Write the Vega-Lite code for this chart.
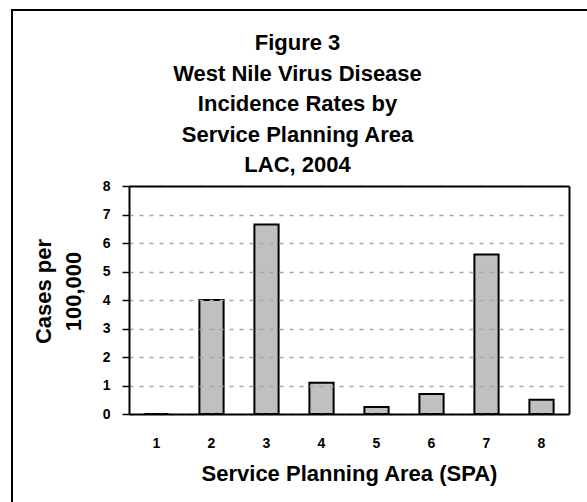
{
  "$schema": "https://vega.github.io/schema/vega-lite/v6.json",
  "autosize": {"type": "none"},
  "padding": {"left": 12, "top": 10, "right": -10, "bottom": -10},
  "width": 585,
  "height": 502,
  "background": "white",
  "title": {
    "text": ["Figure 3", "West Nile Virus Disease", "Incidence Rates by", "Service Planning Area", "LAC, 2004"],
    "font": "Liberation Sans",
    "fontSize": 22,
    "fontWeight": "bold",
    "color": "black",
    "lineHeight": 30.5,
    "anchor": "middle",
    "frame": "group",
    "baseline": "bottom",
    "offset": -189,
    "dx": -7
  },
  "data": {
    "values": [
      {"spa": "1", "rate": 0},
      {"spa": "2", "rate": 4.0},
      {"spa": "3", "rate": 6.65},
      {"spa": "4", "rate": 1.1},
      {"spa": "5", "rate": 0.25},
      {"spa": "6", "rate": 0.7},
      {"spa": "7", "rate": 5.6},
      {"spa": "8", "rate": 0.5}
    ]
  },
  "layer": [
    {
      "mark": {"type": "bar", "fill": "#c0c0c0", "stroke": "black", "strokeWidth": 2},
      "encoding": {
        "x": {
          "field": "spa",
          "type": "ordinal",
          "scale": {"range": [117, 557], "paddingInner": 0.56, "paddingOuter": 0.28},
          "axis": {
            "orient": "bottom",
            "offset": -98,
            "labelAngle": 0,
            "ticks": false,
            "domainColor": "black",
            "domainWidth": 2,
            "labelFont": "Liberation Sans",
            "labelFontSize": 14,
            "labelFontWeight": "bold",
            "labelColor": "black",
            "labelPadding": 22,
            "title": "Service Planning Area (SPA)",
            "titleFont": "Liberation Sans",
            "titleFontSize": 22,
            "titleFontWeight": "bold",
            "titleColor": "black",
            "titlePadding": 13,
            "zindex": 2
          }
        },
        "y": {
          "field": "rate",
          "type": "quantitative",
          "scale": {"domain": [0, 8], "range": [404, 176], "nice": false},
          "axis": {
            "orient": "left",
            "offset": -117,
            "values": [0, 1, 2, 3, 4, 5, 6, 7, 8],
            "tickSize": 7,
            "tickColor": "black",
            "tickWidth": 1.5,
            "domainColor": "black",
            "domainWidth": 2,
            "labelFont": "Liberation Sans",
            "labelFontSize": 14,
            "labelFontWeight": "bold",
            "labelColor": "black",
            "labelPadding": 12,
            "grid": true,
            "gridColor": "#a6a6a6",
            "gridWidth": 1.5,
            "gridDash": [4, 6],
            "title": ["Cases per", "100,000"],
            "titleFont": "Liberation Sans",
            "titleFontSize": 22,
            "titleFontWeight": "bold",
            "titleColor": "black",
            "titleLineHeight": 30,
            "titlePadding": 17,
            "titleY": 281,
            "zindex": 2
          }
        }
      }
    },
    {
      "mark": {"type": "bar", "opacity": 0},
      "encoding": {
        "x": {
          "field": "spa",
          "type": "ordinal",
          "axis": {"orient": "top", "offset": -176, "labels": false, "ticks": false, "title": null, "grid": false, "domainColor": "black", "domainWidth": 2, "zindex": 2}
        },
        "y": {
          "field": "rate",
          "type": "quantitative",
          "axis": {"orient": "right", "offset": -28, "labels": false, "ticks": false, "title": null, "grid": false, "domainColor": "black", "domainWidth": 2, "zindex": 2}
        }
      }
    }
  ],
  "resolve": {"axis": {"x": "independent", "y": "independent"}},
  "config": {
    "font": "Liberation Sans",
    "view": {"stroke": "black", "strokeWidth": 2}
  }
}
